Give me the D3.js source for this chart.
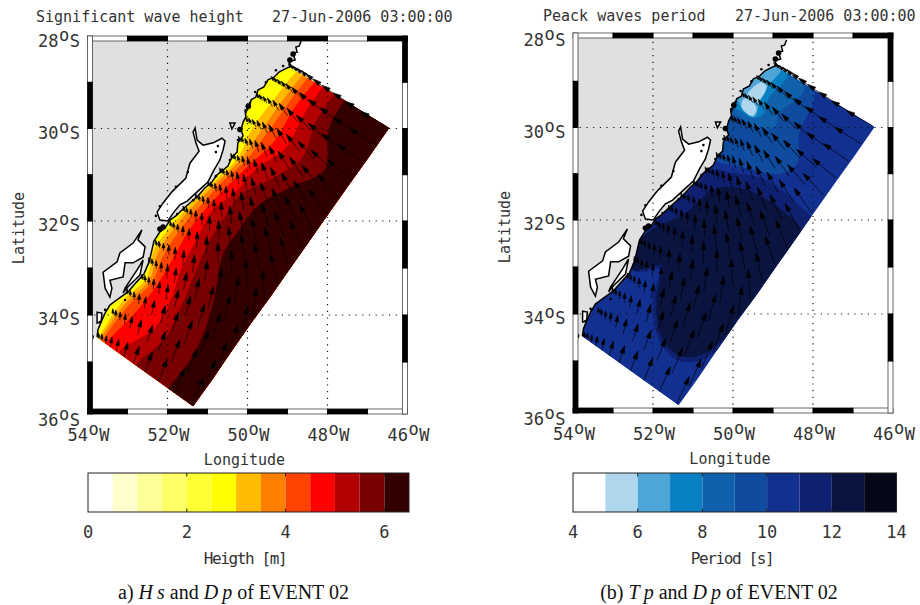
<!DOCTYPE html>
<html>
<head>
<meta charset="utf-8">
<script src="https://cdn.jsdelivr.net/npm/d3@7"></script>
<style>
    html, body { margin: 0; background: #fff; }
    svg { display: block; }
    .mono { font-family: "DejaVu Sans Mono", monospace; fill: #333; }
    .caption { font-family: "Liberation Serif", serif; font-size: 20px; fill: #111; }
</style>
</head>
<body>
<div id="chart"></div>
<script>
// axis ticks
const lonTicks = [-54, -52, -50, -48, -46];
const latTicks = [-28, -30, -32, -34, -36];
const lonDegrees = [-54, -53, -52, -51, -50, -49, -48, -47, -46];
const latDegrees = [-28, -29, -30, -31, -32, -33, -34, -35, -36];

// colour bars
const hsLevels = [0.5, 1, 1.5, 2, 2.5, 3, 3.5, 4, 4.5, 5, 5.5, 6];
const hsColors = ['#ffffff', '#ffffcc', '#ffff99', '#ffff66', '#ffff33', '#ffff00', '#ffbb00', '#ff8000', '#ff4400', '#ff0000', '#b30000', '#780000', '#330000'];
const hsBarTicks = [0, 2, 4, 6];
const tpLevels = [5, 6, 7, 8, 9, 10, 11, 12, 13];
const tpColors = ['#ffffff', '#aed6ec', '#4ea6d8', '#0a80c4', '#1060ac', '#0f4b9e', '#123090', '#0f2070', '#0a1440', '#050818'];
const tpBarTicks = [4, 6, 8, 10, 12, 14];

// model domain, transects run from the coast edge to the offshore edge
const shoreLon = [-53.76, -53.19, -52.59, -52.39, -51.81, -51.31, -50.81, -50.36, -50.09, -49.64, -48.94];
const shoreLat = [-34.48, -33.65, -33.16, -32.58, -31.93, -31.50, -31.07, -30.57, -29.95, -29.12, -28.67];
const seaLon = [-51.36, -50.87, -50.39, -49.89, -49.40, -48.91, -48.42, -47.93, -47.44, -46.95, -46.46];
const seaLat = [-35.94, -35.36, -34.76, -34.15, -33.58, -32.98, -32.39, -31.79, -31.19, -30.60, -29.99];

// Hs: fraction of each transect where the height passes the level
const hsCrossLevels = [3, 3.5, 4, 4.5, 5, 5.5, 6];
const hsCross = [
    [.01, .03, .03, .02, .02, .01, .02, .05, .07, .13, .07],
    [.03, .06, .06, .06, .05, .04, .04, .08, .14, .19, .13],
    [.05, .09, .09, .11, .09, .08, .07, .12, .19, .24, .18],
    [.09, .17, .14, .19, .15, .13, .13, .17, .28, .30, .25],
    [.22, .37, .31, .29, .24, .18, .22, .24, .39, .39, .33],
    [.40, .49, .42, .41, .34, .30, .27, .41, .55, .50, .45],
    [.74, .76, .70, .63, .49, .46, .45, .58, .76, .62, .55]
];

// Tp: patches of the period field, base of the domain is 10.5 s
const tpBase = 10.5;
const tpPatchValues = [9.5, 8.5, 7.5, 6.5, 5.5, 5.5, 11.5, 12.5];
const tpPatchLon = [
    [-47.96, -48.34, -48.39, -48.79, -49.66, -50.51, -51.06, -50.31, -48.69],
    [-48.21, -48.84, -48.96, -49.59, -49.84, -50.31, -50.06, -49.06],
    [-48.64, -49.09, -49.26, -49.54, -49.79, -50.06, -49.81, -49.06],
    [-48.79, -49.14, -49.34, -49.46, -49.66, -49.79, -49.94, -49.44],
    [-49.29, -49.16, -49.41, -49.64],
    [-49.71, -49.41, -49.51, -49.79],
    [-48.01, -49.16, -50.01, -50.51, -51.44, -52.44, -51.84, -51.99, -51.86, -51.39, -50.79, -50.11, -49.79, -48.94, -47.56],
    [-48.29, -49.26, -49.96, -50.51, -51.19, -51.91, -52.34, -52.51, -51.76, -51.91, -51.79, -51.34, -50.84, -50.16, -49.84, -48.19]
];
const tpPatchLat = [
    [-29.25, -30.12, -30.77, -31.00, -30.88, -30.71, -30.46, -28.74, -28.19],
    [-29.15, -29.69, -29.99, -29.95, -29.77, -29.64, -28.84, -28.30],
    [-28.86, -29.34, -29.73, -29.79, -29.66, -29.49, -28.95, -28.41],
    [-28.71, -29.12, -29.47, -29.77, -29.69, -29.56, -29.17, -28.52],
    [-29.02, -29.12, -29.45, -29.30],
    [-29.36, -29.58, -29.75, -29.56],
    [-31.94, -31.14, -30.98, -30.92, -31.33, -33.09, -33.04, -33.64, -34.53, -34.98, -34.98, -34.55, -34.11, -33.47, -32.30],
    [-32.17, -31.50, -31.29, -31.35, -31.85, -32.15, -32.43, -33.06, -32.98, -33.64, -34.49, -34.89, -34.89, -34.47, -34.06, -32.40]
];

// coast, north to south
const coastLon = [-48.66, -48.66, -48.71, -48.79, -48.76, -48.86, -48.81, -48.96, -48.91, -49.06, -49.21, -49.34, -49.49, -49.59, -49.74, -49.79, -49.91, -49.96, -50.06, -50.04, -50.11, -50.16, -50.11, -50.24, -50.26, -50.39, -50.49, -50.64, -50.76, -50.91, -51.06, -51.24, -51.44, -51.61, -51.79, -51.94, -52.06, -52.19, -52.34, -52.39, -52.46, -52.59, -52.84, -52.99, -53.24, -53.44, -53.56, -53.64, -53.74, -53.76, -54];
const coastLat = [-28, -28.11, -28.22, -28.24, -28.35, -28.37, -28.52, -28.56, -28.65, -28.71, -28.78, -28.89, -28.95, -29.10, -29.17, -29.32, -29.38, -29.56, -29.60, -29.75, -29.86, -30.03, -30.16, -30.31, -30.51, -30.62, -30.81, -30.92, -31.00, -31.18, -31.28, -31.46, -31.61, -31.74, -31.89, -31.98, -32.15, -32.23, -32.43, -32.62, -32.87, -33.13, -33.36, -33.51, -33.66, -33.79, -33.96, -34.11, -34.32, -34.47, -34.45];

// lagoons
const lagoonLon = [
    [-51.31, -51.26, -51.11, -50.86, -50.64, -50.56, -50.61, -50.69, -50.84, -50.99, -51.26, -51.51, -51.69, -51.86, -51.99, -52.19, -52.26, -52.11, -51.89, -51.54, -51.44, -51.21, -51.29, -51.36],
    [-52.64, -52.86, -53.19, -53.26, -53.61, -53.56, -53.44, -53.39, -53.44, -53.11, -53.06, -52.86, -52.61, -52.56, -52.74],
    [-52.61, -52.69, -52.99, -53.11, -53.06, -52.76],
    [-50.44, -50.31, -50.39],
    [-53.76, -53.64, -53.66, -53.76]
];
const lagoonLat = [
    [-29.99, -30.25, -30.36, -30.31, -30.21, -30.27, -30.46, -30.68, -30.90, -31.16, -31.37, -31.57, -31.65, -31.83, -32.00, -31.98, -31.81, -31.61, -31.37, -31.07, -30.75, -30.49, -30.31, -30.08],
    [-32.19, -32.47, -32.68, -32.87, -33.09, -33.43, -33.62, -33.43, -33.26, -33.19, -32.89, -32.89, -32.77, -32.55, -32.40],
    [-32.83, -33.15, -33.40, -33.53, -33.43, -33.04],
    [-29.88, -29.88, -30.01],
    [-33.94, -33.96, -34.15, -34.17]
];

// black clumps where the shoreline is too dense to resolve
const clumpLon = [-48.86, -48.94, -52.11, -52.19, -53.91, -50.19, -49.98];
const clumpLat = [-28.39, -28.52, -32.13, -32.17, -34.47, -30.02, -29.52];

// islets and shoreline specks
const speckLon = [-49.11, -49.29, -49.54, -49.81, -49.94, -50.04, -50.19, -50.24, -50.44, -50.64, -50.79, -51.36, -51.76, -52.19, -53.56, -53.69, -50.74, -50.79, -51.79, -52.19, -52.29, -51.49, -53.06];
const speckLat = [-28.65, -28.74, -29.00, -29.21, -29.45, -29.64, -29.99, -30.25, -30.68, -30.90, -31.03, -31.55, -31.85, -32.19, -33.89, -34.15, -30.38, -30.51, -31.26, -31.68, -31.89, -30.94, -33.68];

// wave direction quiver: cross-shore stations, peak direction (deg from north) and length by transect
const arrowT = [.02, .05, .09, .14, .20, .28, .38, .50, .64, .80, .98];
const arrowLength = [6, 7, 8, 10, 12, 15, 18, 21, 24, 27, 30];
const dpTable = [
    [-5, 0, 5, 8, 12, 15, 18, 20, 21, 24, 25],
    [-5, -2, 3, 6, 10, 14, 18, 20, 21, 23, 24],
    [-8, -4, 0, 4, 8, 12, 15, 18, 19, 21, 22],
    [-8, -5, 0, 3, 6, 10, 13, 15, 17, 19, 20],
    [-10, -6, -2, 2, 5, 8, 10, 12, 13, 15, 16],
    [-12, -8, -3, 1, 3, 5, 6, 8, 8, 8, 8],
    [-12, -8, -4, 0, 2, 3, 2, 0, -1, -3, -4],
    [-14, -10, -5, -2, 0, 0, -2, -6, -8, -11, -12],
    [-15, -12, -8, -4, -2, -3, -6, -10, -12, -16, -18],
    [-16, -14, -10, -7, -5, -7, -10, -15, -18, -21, -22],
    [-18, -16, -13, -10, -9, -12, -15, -20, -22, -26, -28],
    [-20, -18, -16, -14, -14, -16, -20, -25, -28, -33, -35],
    [-22, -20, -20, -18, -18, -22, -26, -32, -35, -41, -43],
    [-25, -25, -25, -24, -24, -28, -32, -38, -42, -48, -50],
    [-30, -30, -30, -30, -30, -34, -38, -44, -47, -53, -55],
    [-35, -35, -35, -36, -38, -42, -46, -50, -53, -57, -58],
    [-38, -38, -40, -42, -44, -48, -52, -55, -57, -59, -60]
];

const width = 920, height = 605;

const svg = d3.select("#chart").append("svg")
    .attr("width", width)
    .attr("height", height);

class WaveMap {

    constructor(id, dx, dy, topEdge) {
        this.id = id;
        this.topEdge = topEdge;
        this.g = svg.append("g").attr("transform", `translate(${dx},${dy})`);

        this.x = d3.scaleLinear().domain([-54, -46]).range([87.5, 407.5]);
        this.y = d3.scaleLinear().domain(latTicks).range([36, 128.5, 221, 315, 409]);

        // transect index -> lon/lat on each edge
        let idx = d3.range(shoreLon.length);
        this.shoreX = d3.scaleLinear().domain(idx).range(shoreLon);
        this.shoreY = d3.scaleLinear().domain(idx).range(shoreLat);
        this.seaX = d3.scaleLinear().domain(idx).range(seaLon);
        this.seaY = d3.scaleLinear().domain(idx).range(seaLat);

        this.lineGen = d3.line().x(d => this.x(d[0])).y(d => this.y(d[1]));
        this.smooth = d3.line().x(d => this.x(d[0])).y(d => this.y(d[1])).curve(d3.curveCatmullRomClosed);

        this.fieldGroup = this.g.append("g").attr("clip-path", `url(#domain-${id})`);
        this.drawClip();
    }

    // lon/lat of a point at transect s, fraction t between shore and sea
    mesh(s, t) {
        let lon0 = this.shoreX(s), lat0 = this.shoreY(s);
        return [lon0 + (this.seaX(s) - lon0) * t, lat0 + (this.seaY(s) - lat0) * t];
    }

    drawClip() {
        let vis = this;
        let idx = d3.range(shoreLon.length);
        let outline = idx.map(s => vis.mesh(s, -0.1)).concat(idx.slice().reverse().map(s => vis.mesh(s, 1)));
        svg.append("clipPath").attr("id", `domain-${vis.id}`)
            .append("path")
            .attr("d", vis.lineGen(outline) + "Z");
    }

    drawBase(color) {
        this.fieldGroup.append("rect")
            .attr("x", this.x(-54)).attr("y", this.y(-28))
            .attr("width", this.x(-46) - this.x(-54))
            .attr("height", this.y(-36) - this.y(-28))
            .attr("fill", color);
    }

    drawHeight() {
        let vis = this;
        let color = d3.scaleThreshold().domain(hsLevels).range(hsColors);
        vis.drawBase(color(2.75));

        hsCrossLevels.forEach((level, i) => {
            let row = hsCross[i];
            let last = row.length - 1;
            // run the band past both ends of the domain, the clip trims it
            let pts = [vis.mesh(-1, row[0])]
                .concat(row.map((t, s) => vis.mesh(s, t)))
                .concat([vis.mesh(last + 1, row[last]), vis.mesh(last + 1, 1.8), vis.mesh(last / 2, 2), vis.mesh(-1, 1.8)]);
            vis.fieldGroup.append("path")
                .attr("d", vis.smooth(pts))
                .attr("fill", color(level));
        });
    }

    drawPeriod() {
        let vis = this;
        let color = d3.scaleThreshold().domain(tpLevels).range(tpColors);
        vis.drawBase(color(tpBase));

        tpPatchValues.forEach((value, i) => {
            let pts = tpPatchLon[i].map((lon, j) => [lon, tpPatchLat[i][j]]);
            vis.fieldGroup.append("path")
                .attr("d", vis.smooth(pts))
                .attr("fill", color(value));
        });
    }

    drawLand() {
        let vis = this;
        let coast = coastLon.map((lon, i) => [lon, coastLat[i]]);

        vis.g.append("path")
            .attr("d", vis.lineGen(coast.concat([[-54, -28]])) + "Z")
            .attr("fill", "#e0e0e0");

        vis.g.selectAll(".lagoon")
            .data(lagoonLon)
            .join("path")
            .attr("class", "lagoon")
            .attr("d", (d, i) => vis.lineGen(d.map((lon, j) => [lon, lagoonLat[i][j]])) + "Z")
            .attr("fill", "#fff")
            .attr("stroke", "#000")
            .attr("stroke-width", 1.5);

        vis.g.append("path")
            .attr("d", vis.lineGen(coast.slice(1, -1)))
            .attr("fill", "none")
            .attr("stroke", "#000")
            .attr("stroke-width", 1.5);

        vis.g.selectAll(".clump")
            .data(clumpLon)
            .join("circle")
            .attr("class", "clump")
            .attr("cx", d => vis.x(d))
            .attr("cy", (d, i) => vis.y(clumpLat[i]))
            .attr("r", 2.8)
            .attr("fill", "#000");

        vis.g.selectAll(".speck")
            .data(speckLon)
            .join("circle")
            .attr("class", "speck")
            .attr("cx", d => vis.x(d))
            .attr("cy", (d, i) => vis.y(speckLat[i]))
            .attr("r", 1.3)
            .attr("fill", "#000");
    }

    drawGrid() {
        let vis = this;
        let grid = vis.g.append("g")
            .attr("fill", "none")
            .attr("stroke", "#111")
            .attr("stroke-width", 1.2)
            .attr("stroke-dasharray", "1.2,5.5");

        grid.selectAll(".lon-grid")
            .data(lonTicks.slice(1, -1))
            .join("line")
            .attr("class", "lon-grid")
            .attr("x1", d => vis.x(d)).attr("x2", d => vis.x(d))
            .attr("y1", vis.y(-28)).attr("y2", vis.y(-36));

        grid.selectAll(".lat-grid")
            .data(latTicks.slice(1, -1))
            .join("line")
            .attr("class", "lat-grid")
            .attr("y1", d => vis.y(d)).attr("y2", d => vis.y(d))
            .attr("x1", vis.x(-54)).attr("x2", vis.x(-46));
    }

    drawArrows() {
        let vis = this;
        let last = shoreLon.length - 1;
        let arrows = [];
        dpTable.forEach((row, k) => {
            let s = k / (dpTable.length - 1) * last;
            row.forEach((dp, j) => {
                let p = vis.mesh(s, arrowT[j]);
                arrows.push({x: vis.x(p[0]), y: vis.y(p[1]), dp: dp, len: arrowLength[j]});
            });
        });

        vis.g.append("g").selectAll("path")
            .data(arrows)
            .join("path")
            .attr("d", d => {
                let a = d.dp * Math.PI / 180;
                let ux = Math.sin(a), uy = -Math.cos(a);
                let tipX = d.x + ux * d.len, tipY = d.y + uy * d.len;
                let headLen = Math.min(8, 2.5 + d.len * 0.3), headW = headLen * 0.28;
                let baseX = tipX - ux * headLen, baseY = tipY - uy * headLen;
                let path = d3.path();
                path.moveTo(d.x, d.y);
                path.lineTo(baseX, baseY);
                path.moveTo(tipX, tipY);
                path.lineTo(baseX - uy * headW, baseY + ux * headW);
                path.lineTo(baseX + uy * headW, baseY - ux * headW);
                path.closePath();
                return path.toString();
            })
            .attr("fill", "#000")
            .attr("stroke", "#000")
            .attr("stroke-width", 0.7);
    }

    drawBorder() {
        let vis = this;
        let band = 5;
        let left = vis.x(-54), right = vis.x(-46), top = vis.topEdge, bottom = vis.y(-36) + band;
        let segs = [];

        d3.pairs(lonDegrees).forEach((p, i) => {
            let x0 = vis.x(p[0]), w = vis.x(p[1]) - x0;
            segs.push({x: x0, y: top, w: w, h: band, black: i % 2 === 1});
            segs.push({x: x0, y: bottom - band, w: w, h: band, black: i % 2 === 0});
        });
        d3.pairs(latDegrees).forEach((p, i) => {
            let y0 = i === 0 ? top : vis.y(p[0]);
            let y1 = i === latDegrees.length - 2 ? bottom : vis.y(p[1]);
            segs.push({x: left, y: y0, w: band, h: y1 - y0, black: i % 2 === 1});
            segs.push({x: right - band, y: y0, w: band, h: y1 - y0, black: i % 2 === 0});
        });

        // white runs first so the black ones sit cleanly on top
        segs.sort((a, b) => a.black - b.black);
        vis.g.append("g").selectAll("rect")
            .data(segs)
            .join("rect")
            .attr("x", d => d.x).attr("y", d => d.y)
            .attr("width", d => d.w).attr("height", d => d.h)
            .attr("fill", d => d.black ? "#000" : "#fff")
            .attr("stroke", d => d.black ? "#000" : "#444")
            .attr("stroke-width", 0.8);
    }

    drawLabels(titleLeft, titleX, dateX) {
        let vis = this;

        let appendDegree = (sel, letter) => {
            sel.append("tspan").text(d => Math.abs(d));
            sel.append("tspan").attr("dy", -6).attr("dx", 0.5).text("o");
            sel.append("tspan").attr("dy", 6).attr("dx", 0.5).text(letter);
        };

        let lat = vis.g.selectAll(".lat-label")
            .data(latTicks)
            .join("text")
            .attr("class", "lat-label mono")
            .attr("x", 80)
            .attr("y", (d, i) => vis.y(d) + (i === 0 ? 11 : i === 4 ? 17 : 10))
            .attr("text-anchor", "end")
            .attr("font-size", 17);
        appendDegree(lat, "S");

        let lon = vis.g.selectAll(".lon-label")
            .data(lonTicks)
            .join("text")
            .attr("class", "lon-label mono")
            .attr("x", d => vis.x(d) + 1)
            .attr("y", 441)
            .attr("text-anchor", "middle")
            .attr("font-size", 17);
        appendDegree(lon, "W");

        vis.g.append("text").attr("class", "mono")
            .attr("x", vis.x(-50) - 3).attr("y", 465)
            .attr("text-anchor", "middle").attr("font-size", 15)
            .text("Longitude");

        vis.g.append("text").attr("class", "mono")
            .attr("transform", "translate(24,228) rotate(-90)")
            .attr("text-anchor", "middle").attr("font-size", 15)
            .text("Latitude");

        vis.g.append("text").attr("class", "mono")
            .attr("x", titleX).attr("y", 22).attr("font-size", 15)
            .text(titleLeft);
        vis.g.append("text").attr("class", "mono")
            .attr("x", dateX).attr("y", 22).attr("font-size", 15)
            .text("27-Jun-2006 03:00:00");
    }
}

function drawColorbar(levels, colors, ticks, range, label, labelX) {
    let domain = [ticks[0], d3.max(levels) + (levels[1] - levels[0])];
    let bar = d3.scaleLinear().domain(domain).range(range);
    let edges = [domain[0]].concat(levels, [domain[1]]);
    let y0 = 473, y1 = 512;
    let g = svg.append("g");

    g.selectAll("rect")
        .data(d3.pairs(edges))
        .join("rect")
        .attr("x", d => bar(d[0]))
        .attr("y", y0)
        .attr("width", d => bar(d[1]) - bar(d[0]))
        .attr("height", y1 - y0)
        .attr("fill", (d, i) => colors[i]);

    g.append("rect")
        .attr("x", range[0]).attr("y", y0)
        .attr("width", range[1] - range[0]).attr("height", y1 - y0)
        .attr("fill", "none").attr("stroke", "#222").attr("stroke-width", 1);

    g.selectAll(".tick-top")
        .data(ticks.slice(1, -1).concat(ticks[ticks.length - 1] < domain[1] ? [ticks[ticks.length - 1]] : []))
        .join("path")
        .attr("class", "tick-top")
        .attr("d", d => `M${bar(d)},${y0}v3.5M${bar(d)},${y1}v-3.5`)
        .attr("stroke", "#222");

    g.selectAll(".bar-label")
        .data(ticks)
        .join("text")
        .attr("class", "bar-label mono")
        .attr("x", d => bar(d))
        .attr("y", 538)
        .attr("text-anchor", "middle")
        .attr("font-size", 17)
        .text(d => d);

    g.append("text").attr("class", "mono")
        .attr("x", labelX).attr("y", 564)
        .attr("text-anchor", "middle")
        .attr("font-size", 16)
        .style("letter-spacing", "-1.4px")
        .text(label);
}

function drawCaption(x, parts) {
    let text = svg.append("text").attr("class", "caption")
        .attr("x", x).attr("y", 599).attr("text-anchor", "middle");
    parts.forEach(p => {
        text.append("tspan")
            .attr("font-style", p[1] ? "italic" : "normal")
            .text(p[0]);
    });
}

// left panel
let heightMap = new WaveMap("hs", 0, 0, 36);
heightMap.drawHeight();
heightMap.drawLand();
heightMap.drawArrows();
heightMap.drawGrid();
heightMap.drawBorder();
heightMap.drawLabels("Significant wave height", 36, 272);

// right panel
let periodMap = new WaveMap("tp", 485.5, -1, 34);
periodMap.drawPeriod();
periodMap.drawLand();
periodMap.drawArrows();
periodMap.drawGrid();
periodMap.drawBorder();
periodMap.drawLabels("Peack waves period", 57.5, 249.5);

drawColorbar(hsLevels, hsColors, hsBarTicks, [88, 409], "Heigth [m]", 245);
drawColorbar(tpLevels, tpColors, tpBarTicks, [573, 896.5], "Period [s]", 732);

drawCaption(233.5, [["a) ", false], ["H\u2009s", true], [" and ", false], ["D\u2009p", true], [" of EVENT 02", false]]);
drawCaption(719, [["(b) ", false], ["T\u2009p", true], [" and ", false], ["D\u2009p", true], [" of EVENT 02", false]]);
</script>
</body>
</html>
